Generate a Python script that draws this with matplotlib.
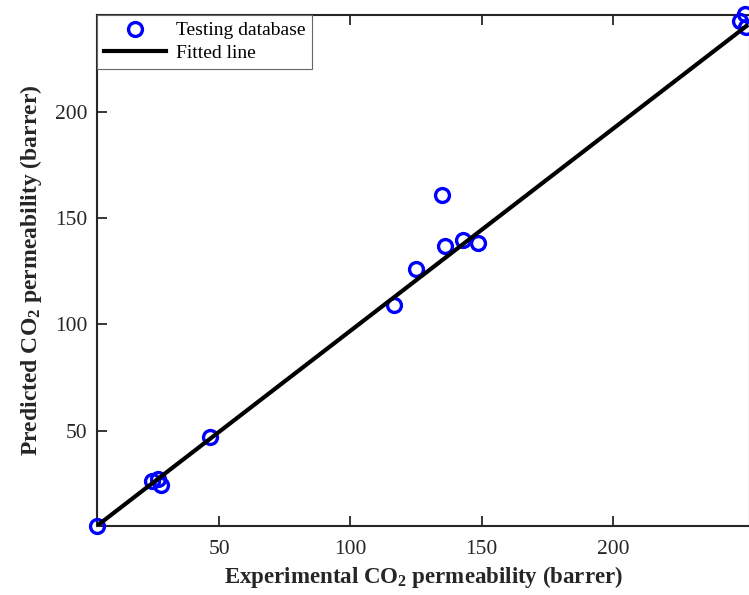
import matplotlib
matplotlib.use("Agg")
import matplotlib.pyplot as plt

# data
exp_vals = [3.5, 24.5, 26.8, 27.9, 46.6, 116.6, 125.1, 135.0, 136.0, 142.7, 148.4, 248.5, 250.4, 250.8]
pred_vals = [5.3, 26.3, 27.3, 24.5, 47.0, 109.3, 125.9, 161.0, 137.0, 139.8, 138.1, 242.7, 246.0, 239.8]
fit_x = [3.5, 250.8]
fit_y = [5.3, 240.3]
xticks = [50, 100, 150, 200]
yticks = [50, 100, 150, 200]

plt.rcParams['font.family'] = ['Liberation Serif', 'DejaVu Serif']
plt.rcParams['mathtext.fontset'] = 'custom'
plt.rcParams['mathtext.rm'] = 'Liberation Serif'
plt.rcParams['mathtext.bf'] = 'Liberation Serif:bold'
plt.rcParams['mathtext.it'] = 'Liberation Serif:italic'

W, H = 749, 595
fig = plt.figure(figsize=(W / 100, H / 100), dpi=100)
left, right, top, bottom = 97, 749.6, 15, 526
ax = fig.add_axes([left / W, (H - bottom) / H, (right - left) / W, (bottom - top) / H])

ax.plot(exp_vals, pred_vals, linestyle='none', marker='o', markersize=10,
        markerfacecolor='none', markeredgecolor='#0000FF', markeredgewidth=2.4,
        label='Testing database', clip_on=False, zorder=3)
ax.plot(fit_x, fit_y, color='black', linewidth=3, label='Fitted line', zorder=4)

ax.set_xlim(3.5, 252)
ax.set_ylim(5.2, 245.5)
ax.set_xticks(xticks)
ax.set_yticks(yticks)
ax.tick_params(direction='in', length=7, width=1.3, colors='#262626',
               labelsize=15.5, top=True, right=False)
ax.tick_params(axis='x', pad=10)
ax.tick_params(axis='y', pad=7)
for s in ax.spines.values():
    s.set_linewidth(1.5)
    s.set_color('#262626')

ax.set_xlabel('Experimental CO$_{\\mathbf{2}}$ permeability (barrer)',
              fontsize=16.5, fontweight='bold', color='#262626', labelpad=4)
ax.set_ylabel('Predicted CO$_{\\mathbf{2}}$ permeability (barrer)',
              fontsize=17, fontweight='bold', color='#262626', labelpad=8)

leg = ax.legend(loc='upper left', borderaxespad=0, fancybox=False,
                framealpha=1, edgecolor='#666666', fontsize=14,
                handlelength=3.2, handletextpad=0.5, borderpad=0.35,
                labelspacing=0.25)
leg.get_frame().set_linewidth(0.8)

fig.savefig('out.png', dpi=100)
